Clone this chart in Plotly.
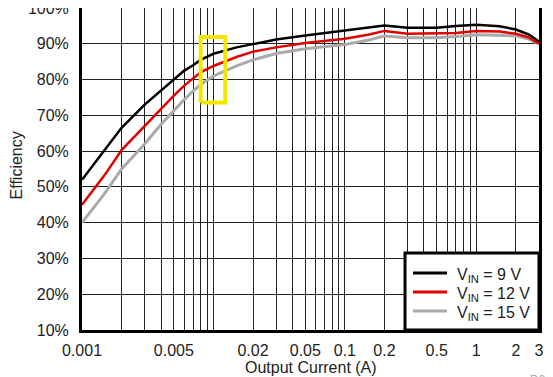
import plotly.graph_objects as go

# ---- data ----
current_a = [0.001, 0.0015, 0.002, 0.003, 0.004, 0.005, 0.006, 0.007, 0.008, 0.01,
             0.015, 0.02, 0.03, 0.05, 0.1, 0.15, 0.2, 0.3, 0.5, 0.7, 1, 1.5, 2, 2.5, 3]
eff_9v = [52, 60.5, 66.5, 73, 77, 80, 82.5, 84, 85.5, 87.2,
          89, 89.9, 91.2, 92.3, 93.6, 94.4, 95.1, 94.5, 94.5, 95, 95.3, 94.9, 94, 92.6, 90.6]
eff_12v = [45, 53.5, 60.3, 67, 72, 75.5, 78.3, 80.3, 82, 83.8,
           86.3, 87.8, 89, 90.2, 91.4, 92.5, 93.6, 92.8, 92.8, 93, 93.6, 93.4, 92.8, 91.8, 90]
eff_15v = [40, 48.3, 55, 62, 67.5, 71.4, 74.4, 76.8, 78.6, 81,
           83.8, 85.5, 87.3, 88.6, 89.8, 91, 92.2, 91.7, 91.7, 92, 92.5, 92.4, 92.2, 91.3, 90]

series_names = ["V<sub>IN</sub> = 9 V", "V<sub>IN</sub> = 12 V", "V<sub>IN</sub> = 15 V"]
series_colors = ["#000000", "#e00000", "#aaaaaa"]

# highlight box (data coordinates)
box_x = [0.0080, 0.0123]
box_y = [73.6, 91.9]

# grid / tick labels on the log axis
grid_vals = [m * 10 ** e for e in (-3, -2, -1, 0) for m in range(1, 10)]
grid_vals = [round(v, 6) for v in grid_vals if v <= 3.0001]
tick_labels = {0.001: "0.001", 0.005: "0.005", 0.02: "0.02", 0.05: "0.05", 0.1: "0.1",
               0.2: "0.2", 0.5: "0.5", 1: "1", 2: "2", 3: "3"}
tick_text = [tick_labels.get(v, "") for v in grid_vals]
y_ticks = [10, 20, 30, 40, 50, 60, 70, 80, 90, 100]
y_tick_text = [f"{v}%" for v in y_ticks]

FONT = "Liberation Sans, Arial, sans-serif"

fig = go.Figure()
for ys, nm, col, w in [(eff_15v, series_names[2], series_colors[2], 3),
                       (eff_9v, series_names[0], series_colors[0], 2.5),
                       (eff_12v, series_names[1], series_colors[1], 2.5)]:
    fig.add_trace(go.Scatter(x=current_a, y=ys, mode="lines", name=nm,
                             line=dict(color=col, width=w), showlegend=False))
fig.add_trace(go.Scatter(x=[box_x[0], box_x[1], box_x[1], box_x[0], box_x[0]],
                         y=[box_y[0], box_y[0], box_y[1], box_y[1], box_y[0]],
                         mode="lines", line=dict(color="#f5e600", width=4),
                         showlegend=False, hoverinfo="skip"))

fig.update_xaxes(type="log", range=[-3, 0.47712], tickvals=grid_vals, ticktext=tick_text,
                 showgrid=True, gridcolor="#222222", gridwidth=1.3,
                 showline=True, linecolor="black", linewidth=3, mirror=True,
                 ticks="", ticklabelstandoff=4, tickfont=dict(size=16, color="#222"),
                 ticklabeloverflow="allow", automargin=False, zeroline=False)
fig.update_yaxes(range=[10, 100], tickvals=y_ticks, ticktext=y_tick_text,
                 showgrid=True, gridcolor="#222222", gridwidth=1.3,
                 showline=True, linecolor="black", linewidth=3, mirror=True,
                 ticks="", ticklabelstandoff=7, tickfont=dict(size=16, color="#222"),
                 ticklabeloverflow="allow", automargin=False, zeroline=False)

# axis titles
fig.add_annotation(text="Output Current (A)", xref="paper", yref="paper", x=0.5, y=-0.118,
                   xanchor="center", yanchor="middle", showarrow=False,
                   font=dict(size=16, color="#222", family=FONT))
fig.add_annotation(text="Efficiency", xref="paper", yref="paper", x=-0.143, y=0.51,
                   xanchor="center", yanchor="middle", textangle=-90, showarrow=False,
                   font=dict(size=16, color="#222", family=FONT))
fig.add_annotation(text="D001", xref="paper", yref="paper", x=1.013, y=-0.127,
                   xanchor="center", yanchor="top", showarrow=False,
                   font=dict(size=12, color="#aaaaaa", family=FONT))

# legend (drawn as a boxed key in the lower right)
fig.add_shape(type="rect", xref="paper", yref="paper", x0=0.7068, x1=1.0, y0=0.0, y1=0.239,
              fillcolor="white", line=dict(color="black", width=3), layer="above")
row_y = [0.177, 0.118, 0.059]
for nm, col, ry in zip(series_names, series_colors, row_y):
    fig.add_shape(type="line", xref="paper", yref="paper", x0=0.7243, x1=0.7987, y0=ry, y1=ry,
                  line=dict(color=col, width=3), layer="above")
    fig.add_annotation(text=nm, xref="paper", yref="paper", x=0.816, y=ry - 0.008,
                       xanchor="left", yanchor="middle", showarrow=False,
                       font=dict(size=16, color="#222", family=FONT))

fig.update_layout(
    width=545, height=369,
    margin=dict(l=74, r=14, t=0, b=47, autoexpand=False),
    paper_bgcolor="white", plot_bgcolor="white",
    font=dict(family=FONT, color="#222"),
    showlegend=False,
)

fig.write_html("out.html")
